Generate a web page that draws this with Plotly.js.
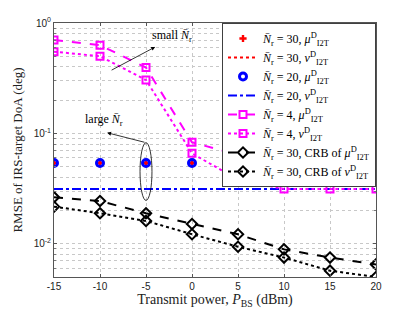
<!DOCTYPE html>
<html><head><meta charset="utf-8">
<script src="https://cdn.plot.ly/plotly-3.0.1.min.js"></script>
<style>html,body{margin:0;padding:0;background:#fff}</style>
</head><body><div id="chart" style="width:415px;height:312px"></div>
<script>
const power = [-15, -10, -5, 0, 5, 10, 15, 20];
const powerLabels = ['-15', '-10', '-5', '0', '5', '10', '15', '20'];
const mu30 = [0.054, 0.054, 0.054, 0.054, 0.054, 0.054, 0.054, 0.054];
const nu30 = [0.0314, 0.0314, 0.0314, 0.0314, 0.0314, 0.0314, 0.0314, 0.0314];
const mu20 = [0.054, 0.054, 0.054, 0.054, 0.054, 0.054, 0.054, 0.054];
const nu20 = [0.0314, 0.0314, 0.0314, 0.0314, 0.0314, 0.0314, 0.0314, 0.0314];
const mu4 = [0.70, 0.63, 0.395, 0.083, 0.064, 0.055, 0.055, 0.055];
const nu4 = [0.55, 0.50, 0.305, 0.066, 0.038, 0.0314, 0.0314, 0.0314];
const crbMu30 = [0.0264, 0.0244, 0.0189, 0.0151, 0.0122, 0.0089, 0.0075, 0.0065];
const crbNu30 = [0.0217, 0.0189, 0.0161, 0.0122, 0.0094, 0.0075, 0.0057, 0.0050];
const yTickVals = [1, 0.1, 0.01];
const yTickText = ['10<sup>0</sup>', '10<sup>-1</sup>', '10<sup>-2</sup>'];
const names = [
  '<i>N̄</i><sub>r</sub> = 30, <i>μ</i><sup>D</sup><sub>I2T</sub>',
  '<i>N̄</i><sub>r</sub> = 30, <i>ν</i><sup>D</sup><sub>I2T</sub>',
  '<i>N̄</i><sub>r</sub> = 20, <i>μ</i><sup>D</sup><sub>I2T</sub>',
  '<i>N̄</i><sub>r</sub> = 20, <i>ν</i><sup>D</sup><sub>I2T</sub>',
  '<i>N̄</i><sub>r</sub> = 4, <i>μ</i><sup>D</sup><sub>I2T</sub>',
  '<i>N̄</i><sub>r</sub> = 4, <i>ν</i><sup>D</sup><sub>I2T</sub>',
  '<i>N̄</i><sub>r</sub> = 30, CRB of <i>μ</i><sup>D</sup><sub>I2T</sub>',
  '<i>N̄</i><sub>r</sub> = 30, CRB of <i>ν</i><sup>D</sup><sub>I2T</sub>'
];
const traces = [
  {x: power, y: mu30, name: names[0], mode: 'markers', marker: {symbol: 'cross', size: 6, color: '#ff0000'}},
  {x: power, y: nu30, name: names[1], mode: 'lines', line: {color: '#ff0000', width: 2, dash: 'dot'}},
  {x: power, y: mu20, name: names[2], mode: 'markers', marker: {symbol: 'circle-open', size: 7, color: '#0000ff', line: {width: 3}}},
  {x: power, y: nu20, name: names[3], mode: 'lines', line: {color: '#0000ff', width: 2, dash: 'dashdot'}},
  {x: power, y: mu4, name: names[4], mode: 'lines+markers', line: {color: '#ff00ff', width: 2, dash: 'dash'}, marker: {symbol: 'square-open', size: 7, color: '#ff00ff', line: {width: 2}}},
  {x: power, y: nu4, name: names[5], mode: 'lines+markers', line: {color: '#ff00ff', width: 2, dash: 'dot'}, marker: {symbol: 'square-open', size: 7, color: '#ff00ff', line: {width: 2}}},
  {x: power, y: crbMu30, name: names[6], mode: 'lines+markers', line: {color: '#000', width: 2, dash: 'dash'}, marker: {symbol: 'diamond-open', size: 8, color: '#000', line: {width: 2}}},
  {x: power, y: crbNu30, name: names[7], mode: 'lines+markers', line: {color: '#000', width: 2, dash: 'dot'}, marker: {symbol: 'diamond-open', size: 8, color: '#000', line: {width: 2}}}
];
const serif = 'Liberation Serif, DejaVu Serif, serif';
const sans = 'Liberation Sans, Arial, sans-serif';
const gridc = '#c8c8c8';
const layout = {
  width: 415, height: 312,
  margin: {l: 54, r: 39, t: 23, b: 35},
  paper_bgcolor: '#fff', plot_bgcolor: '#fff',
  showlegend: true,
  legend: {x: 1, xanchor: 'right', y: 1, yanchor: 'top', bgcolor: '#fff', bordercolor: '#404040', borderwidth: 1,
    font: {family: serif, size: 12, color: '#000'}, tracegroupgap: 0, itemwidth: 30},
  xaxis: {
    range: [-15, 20], tickvals: power, ticktext: powerLabels, ticks: 'inside', ticklen: 3, tickcolor: '#555',
    showline: true, mirror: 'ticks', linecolor: '#555', linewidth: 1,
    showgrid: true, gridcolor: gridc, griddash: 'dot', zeroline: false,
    tickfont: {family: sans, size: 10, color: '#222'},
    title: {text: 'Transmit power, <i>P</i><sub>BS</sub> (dBm)', font: {family: serif, size: 14, color: '#222'}, standoff: 3}
  },
  yaxis: {
    type: 'log', range: [Math.log10(0.005), 0],
    tickvals: yTickVals, ticktext: yTickText,
    ticks: 'inside', ticklen: 3, tickcolor: '#555',
    showline: true, mirror: 'ticks', linecolor: '#555', linewidth: 1,
    showgrid: true, gridcolor: gridc, griddash: 'dot', zeroline: false,
    minor: {tickvals: [0.005,0.006,0.007,0.008,0.009,0.02,0.03,0.04,0.05,0.06,0.07,0.08,0.09,0.2,0.3,0.4,0.5,0.6,0.7,0.8,0.9], ticks: 'inside', ticklen: 2, tickcolor: '#777', showgrid: true, gridcolor: gridc, griddash: 'dot'},
    tickfont: {family: sans, size: 10, color: '#222'},
    title: {text: 'RMSE of IRS-target DoA (deg)', font: {family: serif, size: 13, color: '#222'}, standoff: 8}
  },
  annotations: [
    {x: -4.0, y: -0.217, xref: 'x', yref: 'y', ax: -8.9, ay: -0.434, axref: 'x', ayref: 'y', showarrow: true, arrowhead: 2, arrowsize: 1, arrowwidth: 0.8, arrowcolor: '#000', text: ''},
    {x: -2.2, y: -0.12, xref: 'x', yref: 'y', text: 'small <i>N̄</i><sub>r</sub>', showarrow: false, font: {family: serif, size: 12, color: '#000'}},
    {x: -9.23, y: -0.994, xref: 'x', yref: 'y', ax: -5, ay: -1.084, axref: 'x', ayref: 'y', showarrow: true, arrowhead: 2, arrowsize: 1, arrowwidth: 0.8, arrowcolor: '#000', text: ''},
    {x: -9.6, y: -0.88, xref: 'x', yref: 'y', text: 'large <i>N̄</i><sub>r</sub>', showarrow: false, font: {family: serif, size: 12, color: '#000'}}
  ],
  shapes: [
    {type: 'circle', xref: 'x', yref: 'y', x0: -5.65, x1: -4.35, y0: 0.0247, y1: 0.0824, line: {color: '#000', width: 0.8}}
  ]
};
Plotly.newPlot('chart', traces, layout, {displayModeBar: false, staticPlot: true});
</script></body></html>
